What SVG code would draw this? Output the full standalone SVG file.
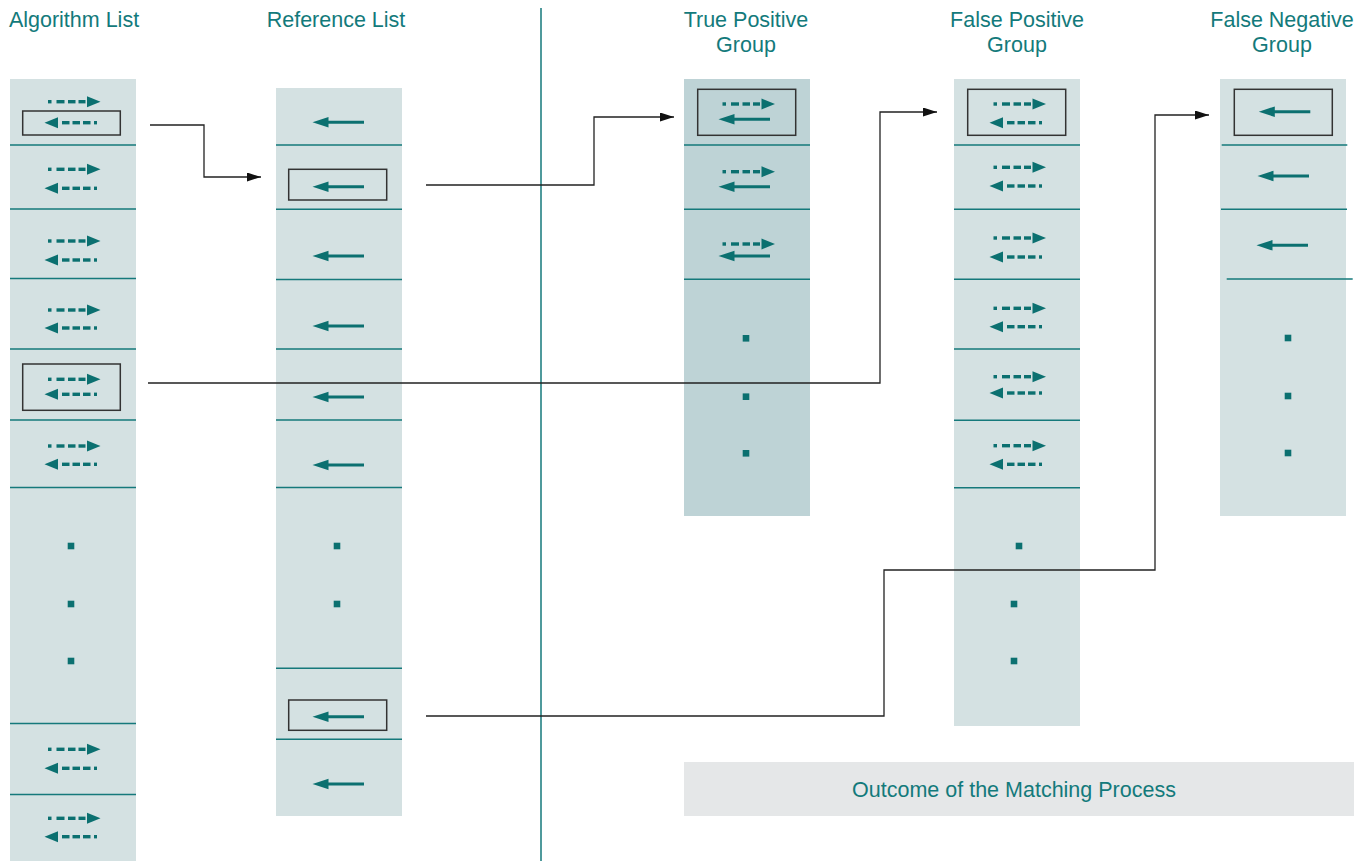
<svg xmlns="http://www.w3.org/2000/svg" width="1367" height="861" viewBox="0 0 1367 861">
<style>
.col{fill:#d4e1e2}
.tp{fill:#bed3d6}
.sep{stroke:#15797b;stroke-width:1.5;fill:none}
.box{fill:none;stroke:#333;stroke-width:1.5}
.g{fill:#0b7070}
.ln{stroke:#0b7070;stroke-width:3;fill:none}
.hd{font-family:"Liberation Sans",Arial,sans-serif;font-size:21.5px;fill:#137a7b;text-anchor:middle}
.con{fill:none;stroke:#222;stroke-width:1.3}
</style>
<defs>
<g id="rd" class="g">
<rect x="0" y="-1.7" width="3.5" height="3.4"/>
<rect x="8.5" y="-1.7" width="8" height="3.4"/>
<rect x="20" y="-1.7" width="7.5" height="3.4"/>
<rect x="30.5" y="-1.7" width="7" height="3.4"/>
<polygon points="39,-5.5 52.5,0 39,5.5"/>
</g>
<g id="ld" class="g">
<polygon points="-0.5,0 13,-5.5 13,5.5"/>
<rect x="17" y="-1.7" width="7.5" height="3.4"/>
<rect x="27.5" y="-1.7" width="7.5" height="3.4"/>
<rect x="38" y="-1.7" width="7.5" height="3.4"/>
<rect x="49" y="-1.7" width="3" height="3.4"/>
</g>
<g id="ls">
<polygon class="g" points="-0.5,0 15.5,-5.3 15.5,5.3"/>
<line class="ln" x1="13" y1="0" x2="51" y2="0"/>
</g>
<rect id="dot" class="g" x="-3.3" y="-3.3" width="6.6" height="6.6"/>
<marker id="ah" viewBox="0 0 14 9" refX="14" refY="4.5" markerWidth="14" markerHeight="9" markerUnits="userSpaceOnUse" orient="auto">
<path d="M0,0 L14,4.5 L0,9 Z" fill="#111"/>
</marker>
</defs>

<g id="headers">
<text class="hd" x="74" y="27">Algorithm List</text>
<text class="hd" x="336" y="27">Reference List</text>
<text class="hd" x="746" y="27">True Positive</text>
<text class="hd" x="746" y="52">Group</text>
<text class="hd" x="1017" y="27">False Positive</text>
<text class="hd" x="1017" y="52">Group</text>
<text class="hd" x="1282" y="27">False Negative</text>
<text class="hd" x="1282" y="52">Group</text>
</g>

<line id="divider" x1="541" y1="8" x2="541" y2="861" stroke="#15797b" stroke-width="1.5"/>

<g id="algorithm-list">
<rect class="col" x="10" y="79" width="126" height="782"/>
<path class="sep" d="M10,145H136M10,209H136M10,278.5H136M10,349H136M10,420H136M10,487.5H136M10,723.5H136M10,794.5H136"/>
<use href="#rd" x="48" y="101.7"/><use href="#ld" x="45" y="122.7"/>
<use href="#rd" x="48" y="169.3"/><use href="#ld" x="45" y="188.3"/>
<use href="#rd" x="48" y="241"/><use href="#ld" x="45" y="260"/>
<use href="#rd" x="48" y="310"/><use href="#ld" x="45" y="328"/>
<use href="#rd" x="48" y="379.3"/><use href="#ld" x="45" y="394.3"/>
<use href="#rd" x="48" y="446"/><use href="#ld" x="45" y="464.3"/>
<use href="#dot" x="71" y="546"/><use href="#dot" x="71" y="604"/><use href="#dot" x="71" y="661"/>
<use href="#rd" x="48" y="749.3"/><use href="#ld" x="45" y="768.3"/>
<use href="#rd" x="48" y="818.3"/><use href="#ld" x="45" y="836.7"/>
<rect class="box" x="22.7" y="111" width="97.6" height="24"/>
<rect class="box" x="22.7" y="364" width="97.6" height="46.3"/>
</g>

<g id="reference-list">
<rect class="col" x="276" y="88" width="126" height="728"/>
<path class="sep" d="M276,145H402M276,209.3H402M276,279.5H402M276,349H402M276,420H402M276,487.5H402M276,668.3H402M276,739.3H402"/>
<use href="#ls" x="313" y="122.3"/>
<use href="#ls" x="313" y="186.7"/>
<use href="#ls" x="313" y="256"/>
<use href="#ls" x="313" y="326"/>
<use href="#ls" x="313" y="397"/>
<use href="#ls" x="313" y="465"/>
<use href="#dot" x="337" y="546"/><use href="#dot" x="337" y="604"/>
<use href="#ls" x="313" y="716.7"/>
<use href="#ls" x="313" y="784"/>
<rect class="box" x="288.7" y="169.3" width="98" height="30.7"/>
<rect class="box" x="288.7" y="700" width="98" height="30.3"/>
</g>

<g id="true-positive-group">
<rect class="tp" x="684" y="79" width="126" height="437"/>
<path class="sep" d="M684,145H810M684,209.3H810M684,279.3H810"/>
<use href="#rd" x="722.5" y="104"/><use href="#ls" x="719" y="119.3"/>
<use href="#rd" x="722.5" y="171.7"/><use href="#ls" x="719" y="186.7"/>
<use href="#rd" x="722.5" y="244"/><use href="#ls" x="719" y="256"/>
<use href="#dot" x="746" y="338.3"/><use href="#dot" x="746" y="396.7"/><use href="#dot" x="746" y="453.3"/>
<rect class="box" x="697.7" y="89.3" width="98" height="46"/>
</g>

<g id="false-positive-group">
<rect class="col" x="954" y="79" width="126" height="647"/>
<path class="sep" d="M954,145H1080M954,209.3H1080M954,279.3H1080M954,349H1080M954,420.3H1080M954,487.7H1080"/>
<use href="#rd" x="993.5" y="104"/><use href="#ld" x="990" y="122.7"/>
<use href="#rd" x="993.5" y="167.3"/><use href="#ld" x="990" y="186"/>
<use href="#rd" x="993.5" y="238"/><use href="#ld" x="990" y="257"/>
<use href="#rd" x="993.5" y="308.3"/><use href="#ld" x="990" y="326.7"/>
<use href="#rd" x="993.5" y="376.7"/><use href="#ld" x="990" y="393"/>
<use href="#rd" x="993.5" y="445.7"/><use href="#ld" x="990" y="464.3"/>
<use href="#dot" x="1019" y="546"/><use href="#dot" x="1014" y="604"/><use href="#dot" x="1014" y="661"/>
<rect class="box" x="967.7" y="89.3" width="98" height="46"/>
</g>

<g id="false-negative-group">
<rect class="col" x="1220" y="79" width="126" height="437"/>
<path class="sep" d="M1221.7,145H1347.3M1221,209.3H1347M1226.7,279H1352.7"/>
<use href="#ls" x="1259.3" y="111.7"/>
<use href="#ls" x="1258" y="176"/>
<use href="#ls" x="1257" y="245.3"/>
<use href="#dot" x="1288" y="338"/><use href="#dot" x="1288" y="396"/><use href="#dot" x="1288" y="453"/>
<rect class="box" x="1234.3" y="89.3" width="98" height="46"/>
</g>

<g id="connectors">
<path class="con" d="M150,125H204V177H261" marker-end="url(#ah)"/>
<path class="con" d="M426,185H594V117H674" marker-end="url(#ah)"/>
<path class="con" d="M148,383H880V112H937" marker-end="url(#ah)"/>
<path class="con" d="M426,716H884V570H1155V115H1209" marker-end="url(#ah)"/>
</g>

<g id="legend">
<rect x="684" y="762" width="670" height="54" fill="#e5e7e8"/>
<text class="hd" x="1014" y="796.5">Outcome of the Matching Process</text>
</g>
</svg>
